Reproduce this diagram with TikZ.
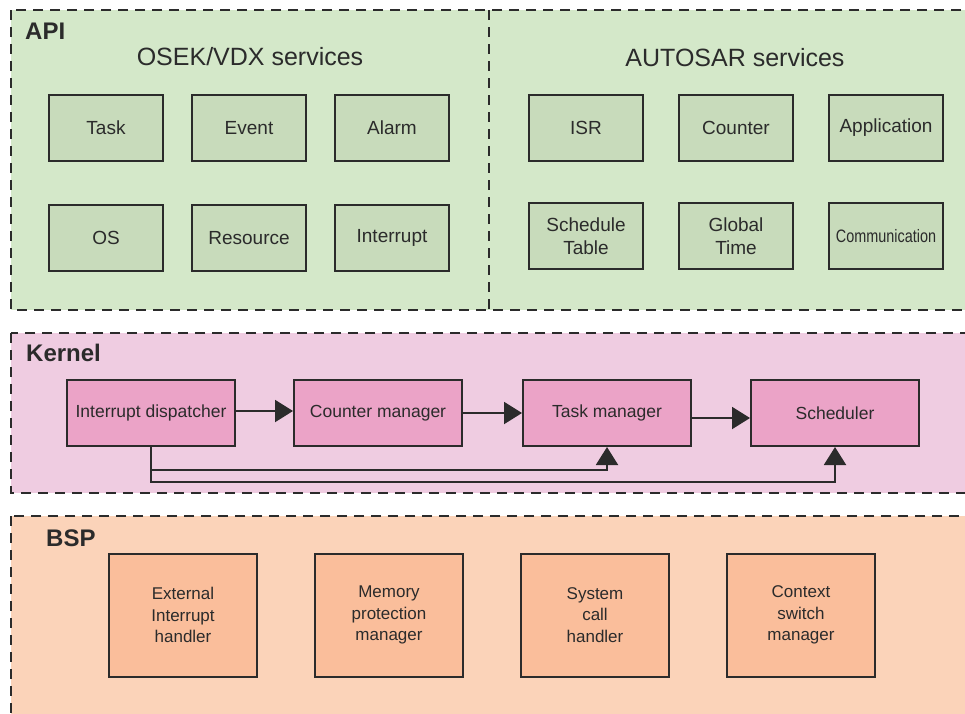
\documentclass[tikz,border=0pt]{standalone}
\usepackage{fontspec}
\setmainfont{Liberation Sans}
\newfontfamily\narrowfont[FakeStretch=0.8]{Liberation Sans}
\usetikzlibrary{positioning, arrows.meta}
\definecolor{ink}{HTML}{2B2B2B}
\definecolor{apibg}{HTML}{D4E8C9}
\definecolor{apibox}{HTML}{C8DBBB}
\definecolor{kernbg}{HTML}{EFCCE1}
\definecolor{kernbox}{HTML}{EBA3C7}
\definecolor{bspbg}{HTML}{FBD3B9}
\definecolor{bspbox}{HTML}{FABE9B}
\tikzset {
    >={Triangle[length=18pt, width=22pt]},
    layer/.style={draw=ink, line width=2pt, dash pattern=on 10pt off 7pt},
    title/.style={font=\fontsize{24}{28}\selectfont\bfseries, text=ink, anchor=west, inner sep=0pt},
    heading/.style={font=\fontsize{25}{30}\selectfont, text=ink},
    service/.style={draw=ink, line width=2pt, fill=apibox, text=ink, align=center,
        minimum width=114pt, minimum height=66pt, inner sep=2pt,
        font=\fontsize{19}{23.5}\selectfont},
    module/.style={draw=ink, line width=2pt, fill=kernbox, text=ink, align=center,
        minimum width=168pt, minimum height=66pt, inner sep=2pt,
        font=\fontsize{17.5}{21}\selectfont},
    driver/.style={draw=ink, line width=2pt, fill=bspbox, text=ink, align=center,
        minimum width=148pt, minimum height=123pt, inner sep=2pt,
        font=\fontsize{17}{21.5}\selectfont},
    flow/.style={->, draw=ink, line width=2pt}
}

\begin{document}
\begin{tikzpicture}[x=1pt, y=-1pt]
    \useasboundingbox (0,0) rectangle (965,713);

    % layers
    \draw[layer, fill=apibg] (11,10) rectangle (985,310);
    \draw[layer] (489,10) -- (489,310);
    \draw[layer, fill=kernbg] (11,333) rectangle (985,493);
    \draw[layer, fill=bspbg] (11,516) rectangle (985,730);

    \node[title] (api) at (25,31) {API};
    \node[title] (kernel) at (26,353) {Kernel};
    \node[title] (bsp) at (46,538) {BSP};

    % API
    \node[heading] (osek) at (250,57) {OSEK/VDX services};
    \node[heading] (autosar) at (735,58) {AUTOSAR services};

    \node[service] (task) at (106,128) {Task};
    \node[service, right=27pt of task] (event) {Event};
    \node[service, right=27pt of event] (alarm) {Alarm};
    \node[service] (os) at (106,238) {OS};
    \node[service, right=27pt of os] (resource) {Resource};
    \node[service, right=27pt of resource] (interrupt) {Interrupt};

    \node[service] (isr) at (586,128) {ISR};
    \node[service, right=34pt of isr] (counter) {Counter};
    \node[service, right=34pt of counter] (application) {Application};
    \node[service] (schedtable) at (586,236) {Schedule\\Table};
    \node[service, right=34pt of schedtable] (globaltime) {Global\\Time};
    \node[service, right=34pt of globaltime, font=\fontsize{18}{22}\narrowfont] (communication) {Communication};

    % Kernel
    \node[module] (dispatcher) at (151,413) {Interrupt dispatcher};
    \node[module, right=57pt of dispatcher] (countermgr) {Counter manager};
    \node[module, right=59pt of countermgr] (taskmgr) {Task manager};
    \node[module, right=58pt of taskmgr] (scheduler) {Scheduler};

    \draw[flow] ([yshift=2pt]dispatcher.east) -- ([yshift=2pt]countermgr.west);
    \draw[flow] (countermgr) -- (taskmgr);
    \draw[flow] ([yshift=-5pt]taskmgr.east) -- ([yshift=-5pt]scheduler.west);
    \draw[flow] (dispatcher.south) -- ++(0,23) -| (taskmgr.south);
    \draw[flow] (dispatcher.south) -- ++(0,35) -| (scheduler.south);

    % BSP
    \node[driver] (exthandler) at (183,615) {External\\Interrupt\\handler};
    \node[driver, right=56pt of exthandler] (memprot) {Memory\\protection\\manager};
    \node[driver, right=56pt of memprot] (syscall) {System\\call\\handler};
    \node[driver, right=56pt of syscall] (ctxswitch) {Context\\switch\\manager};
\end{tikzpicture}
\end{document}
